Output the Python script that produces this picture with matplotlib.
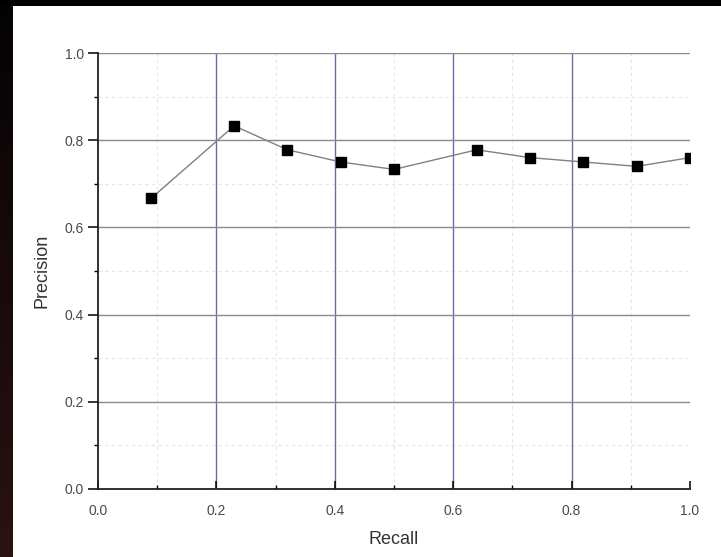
import numpy as np
import matplotlib
matplotlib.use("Agg")
import matplotlib.pyplot as plt
from matplotlib.ticker import MultipleLocator

plt.rcParams["font.family"] = ["Liberation Sans", "DejaVu Sans"]

# Precision-recall measurements
recall = [0.09, 0.23, 0.32, 0.41, 0.50, 0.64, 0.73, 0.82, 0.91, 1.00]
precision = [0.667, 0.833, 0.778, 0.750, 0.733, 0.778, 0.760, 0.750, 0.740, 0.760]
tick_values = [0.0, 0.2, 0.4, 0.6, 0.8, 1.0]
tick_labels = ["0.0", "0.2", "0.4", "0.6", "0.8", "1.0"]

W, H = 721, 557
fig = plt.figure(figsize=(W / 100, H / 100), dpi=100)
fig.patch.set_facecolor("white")

# Dark frame: black band on top, dark strip on the left fading to maroon
bg = fig.add_axes([0, 0, 1, 1], zorder=-10)
bg.set_xlim(0, W)
bg.set_ylim(H, 0)
bg.axis("off")
grad = np.linspace(0, 1, 256)
strip = np.zeros((256, 1, 3))
strip[:, 0, 0] = 0.02 + 0.15 * grad
strip[:, 0, 1] = 0.01 + 0.06 * grad
strip[:, 0, 2] = 0.01 + 0.06 * grad
bg.imshow(strip, extent=[0, 13, H, 0], aspect="auto", interpolation="bilinear")
bg.add_patch(plt.Rectangle((0, 0), W, 6, color="black", lw=0))

ax = fig.add_axes([98 / W, (H - 489) / H, (690 - 98) / W, (489 - 53) / H])
ax.set_xlim(0, 1.0)
ax.set_ylim(0, 1.0)

# Faint minor grid, then the major grid
ax.xaxis.set_minor_locator(MultipleLocator(0.1))
ax.yaxis.set_minor_locator(MultipleLocator(0.1))
for v in np.arange(0.1, 1.0, 0.2):
    ax.axvline(v, color="#e6e6e6", lw=0.8, ls=(0, (3, 3)), zorder=0)
    ax.axhline(v, color="#e6e6e6", lw=0.8, ls=(0, (3, 3)), zorder=0)
for v in tick_values[1:-1]:
    ax.axvline(v, color="#6b6ba6", lw=1.0, zorder=1, snap=True)
for v in tick_values[1:]:
    ax.axhline(v, color="#8a8a8a", lw=1.0, zorder=1, snap=True)

ax.plot(recall, precision, color="#808080", lw=1.0, zorder=2)
ax.plot(recall, precision, ls="none", marker="s", ms=6.5, mfc="black", mec="black", zorder=3)

for side in ("top", "right"):
    ax.spines[side].set_visible(False)
for side in ("left", "bottom"):
    ax.spines[side].set_color("#202020")
    ax.spines[side].set_linewidth(1.3)

ax.set_xticks(tick_values)
ax.set_xticklabels(tick_labels)
ax.set_yticks(tick_values)
ax.set_yticklabels(tick_labels)
ax.tick_params(axis="x", which="major", direction="in", length=6, width=1.1,
               labelsize=10, labelcolor="#4a4a4a", pad=11)
ax.tick_params(axis="x", which="minor", direction="in", length=3, width=1.0)
ax.tick_params(axis="y", which="major", direction="out", length=7, width=1.1,
               labelsize=10, labelcolor="#4a4a4a", pad=3)
ax.tick_params(axis="y", which="minor", direction="out", length=3, width=1.0)

ax.set_xlabel("Recall", fontsize=13, color="#333333", labelpad=9)
ax.set_ylabel("Precision", fontsize=13, color="#333333", labelpad=10)

fig.savefig("out.png", dpi=100)
